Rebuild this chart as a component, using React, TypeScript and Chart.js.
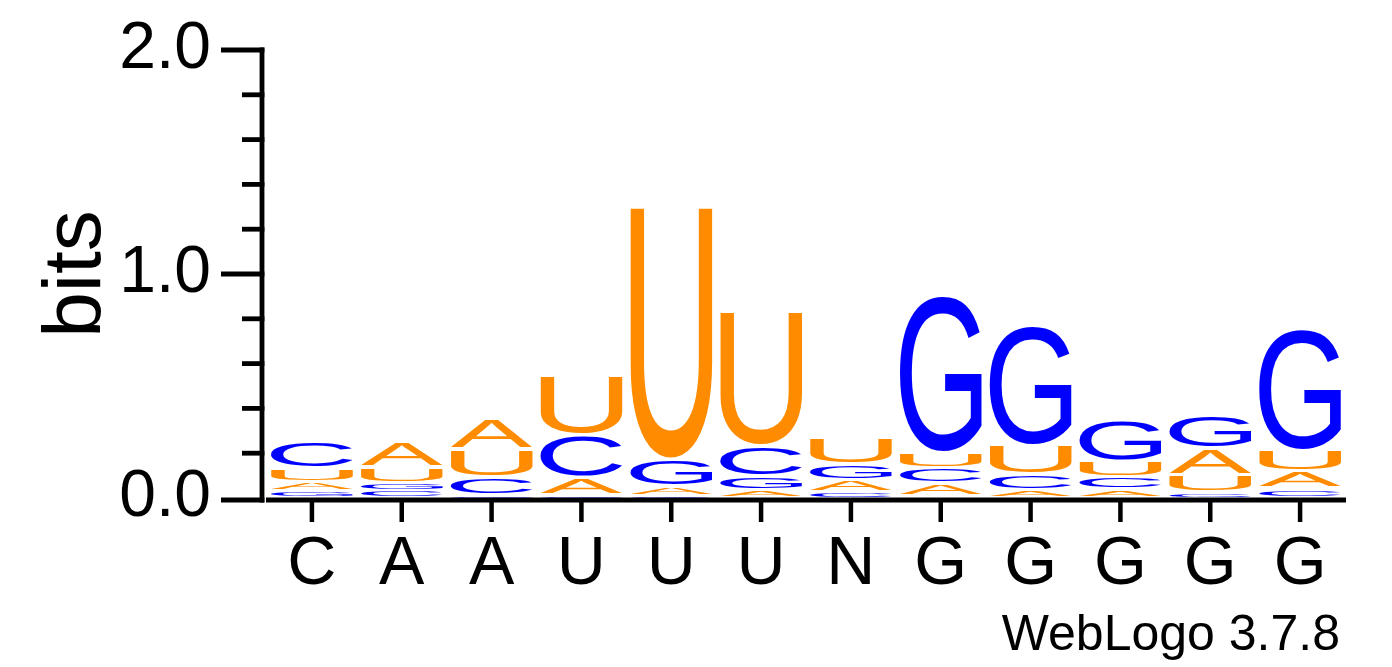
import { useEffect, useRef } from "react"
import { Chart, registerables } from "chart.js"

Chart.register(...registerables)

// sequence positions (x axis labels)
const positions = ["C", "A", "A", "U", "U", "U", "N", "G", "G", "G", "G", "G"]

// information content (bits) of each base at each position
const bitsA = [0.036, 0.115, 0.135, 0.08, 0.04, 0.03, 0.055, 0.058, 0.03, 0.031, 0.12, 0.076]
const bitsC = [0.12, 0.03, 0.08, 0.19, 0.005, 0.135, 0.02, 0.067, 0.067, 0.054, 0.018, 0.036]
const bitsG = [0.027, 0.03, 0.005, 0.005, 0.12, 0.06, 0.07, 0.705, 0.536, 0.183, 0.152, 0.545]
const bitsU = [0.0625, 0.07, 0.125, 0.265, 1.13, 0.6, 0.12, 0.07, 0.13, 0.071, 0.076, 0.094]

const yTicks = [0, 0.2, 0.4, 0.6, 0.8, 1.0, 1.2, 1.4, 1.6, 1.8, 2.0]
const yLabels = ["0.0", "1.0", "2.0"]

const FONT = "'Liberation Sans', Arial, Helvetica, sans-serif"

const baseColors: Record<string, string> = {
  A: "#ff8c00",
  U: "#ff8c00",
  C: "#0000ff",
  G: "#0000ff",
}

// build one dataset per stack rank (smallest letter at the bottom)
function buildStacks() {
  const letters: string[][] = [[], [], [], []]
  const values: number[][] = [[], [], [], []]
  positions.forEach((_, i) => {
    const col = [
      { b: "A", v: bitsA[i] },
      { b: "C", v: bitsC[i] },
      { b: "G", v: bitsG[i] },
      { b: "U", v: bitsU[i] },
    ].sort((p, q) => p.v - q.v)
    col.forEach((item, r) => {
      letters[r].push(item.b)
      values[r].push(item.v)
    })
  })
  return { letters, values }
}

const logoPlugin = {
  id: "logoLetters",
  afterDatasetsDraw(chart: any) {
    const ctx = chart.ctx as CanvasRenderingContext2D
    const stackLetters: string[][] = chart.options.plugins.logoLetters.letters
    chart.data.datasets.forEach((_: any, di: number) => {
      const meta = chart.getDatasetMeta(di)
      meta.data.forEach((bar: any, j: number) => {
        const letter = stackLetters[di][j]
        const top = Math.min(bar.y, bar.base)
        const boxH = Math.abs(bar.base - bar.y)
        if (boxH < 0.5) return
        const gap = Math.min(3.5, boxH * 0.3)
        const h = boxH - gap
        const left = bar.x - bar.width / 2
        ctx.save()
        ctx.font = `200px ${FONT}`
        ctx.fillStyle = baseColors[letter]
        const m = ctx.measureText(letter)
        const gw = m.actualBoundingBoxLeft + m.actualBoundingBoxRight
        const gh = m.actualBoundingBoxAscent + m.actualBoundingBoxDescent
        ctx.translate(left, top)
        ctx.scale(bar.width / gw, h / gh)
        ctx.textAlign = "left"
        ctx.textBaseline = "alphabetic"
        ctx.fillText(letter, m.actualBoundingBoxLeft, m.actualBoundingBoxAscent)
        ctx.restore()
      })
    })
  },
  afterDraw(chart: any) {
    const ctx = chart.ctx as CanvasRenderingContext2D
    const x = chart.scales.x
    const y = chart.scales.y
    const area = chart.chartArea
    ctx.save()
    ctx.strokeStyle = "#000"
    ctx.lineCap = "butt"
    ctx.lineWidth = 4.8
    const axisX = area.left - 5
    const zeroY = y.getPixelForValue(0) + 2
    // y axis line
    ctx.beginPath()
    ctx.moveTo(axisX, y.getPixelForValue(2) - 2.4)
    ctx.lineTo(axisX, zeroY + 2.4)
    ctx.stroke()
    // y ticks
    yTicks.forEach((v) => {
      const py = v === 0 ? zeroY : y.getPixelForValue(v)
      const major = yLabels.includes(v.toFixed(1))
      ctx.beginPath()
      ctx.moveTo(axisX - (major ? 41 : 20), py)
      ctx.lineTo(axisX + 2.4, py)
      ctx.stroke()
    })
    // x axis line
    ctx.beginPath()
    ctx.moveTo(area.left - 1, zeroY)
    ctx.lineTo(area.right + 1, zeroY)
    ctx.stroke()
    // x ticks
    ctx.lineWidth = 4.5
    positions.forEach((_, i) => {
      const px = x.getPixelForValue(i)
      ctx.beginPath()
      ctx.moveTo(px, zeroY)
      ctx.lineTo(px, zeroY + 22)
      ctx.stroke()
    })
    // axis title
    ctx.fillStyle = "#000"
    ctx.font = `82px ${FONT}`
    ctx.save()
    ctx.translate(100, (y.getPixelForValue(2) + y.getPixelForValue(0)) / 2)
    ctx.rotate(-Math.PI / 2)
    ctx.textAlign = "center"
    ctx.textBaseline = "alphabetic"
    ctx.fillText("bits", 0, 0)
    ctx.restore()
    // footer
    ctx.font = `50px ${FONT}`
    ctx.textAlign = "right"
    ctx.textBaseline = "alphabetic"
    ctx.fillText("WebLogo 3.7.8", 1340, 650)
    ctx.restore()
  },
}

export default function App() {
  const chartRef = useRef<HTMLCanvasElement>(null)
  const chartInstance = useRef<Chart | null>(null)

  useEffect(() => {
    document.body.style.margin = "0"
    if (!chartRef.current) return
    if (chartInstance.current) chartInstance.current.destroy()
    const ctx = chartRef.current.getContext("2d")
    if (!ctx) return

    const { letters, values } = buildStacks()

    chartInstance.current = new Chart(ctx, {
      type: "bar",
      data: {
        labels: positions,
        datasets: values.map((vals, r) => ({
          label: `rank ${r}`,
          data: vals,
          backgroundColor: "rgba(0,0,0,0)",
          borderWidth: 0,
          categoryPercentage: 1,
          barPercentage: 0.91,
        })),
      },
      options: {
        animation: false,
        responsive: true,
        maintainAspectRatio: false,
        layout: { padding: { top: 50, right: 47, bottom: 49, left: 0 } },
        scales: {
          x: {
            stacked: true,
            grid: { display: false, drawTicks: false },
            border: { display: false },
            ticks: {
              color: "#000",
              font: { family: FONT, size: 68 },
              padding: 26,
              maxRotation: 0,
              autoSkip: false,
            },
            afterFit: (scale: any) => {
              scale.height = 120
              scale.paddingLeft = 0
              scale.paddingRight = 0
            },
          },
          y: {
            stacked: true,
            min: 0,
            max: 2,
            grid: { display: false, drawTicks: false },
            border: { display: false },
            afterBuildTicks: (scale: any) => {
              scale.ticks = yTicks.map((v) => ({ value: v }))
            },
            ticks: {
              color: "#000",
              font: { family: FONT, size: 66 },
              padding: 56,
              autoSkip: false,
              callback: (value: any) => {
                const s = Number(value).toFixed(1)
                return yLabels.includes(s) ? s : ""
              },
            },
            afterFit: (scale: any) => {
              scale.width = 267
              scale.paddingTop = 0
              scale.paddingBottom = 0
            },
          },
        },
        plugins: {
          legend: { display: false },
          tooltip: { enabled: false },
          logoLetters: { letters },
        } as any,
      },
      plugins: [logoPlugin],
    })

    return () => {
      if (chartInstance.current) {
        chartInstance.current.destroy()
        chartInstance.current = null
      }
    }
  }, [])

  return (
    <div style={{ width: 1392, height: 667, position: "relative" }}>
      <canvas ref={chartRef} />
    </div>
  )
}
